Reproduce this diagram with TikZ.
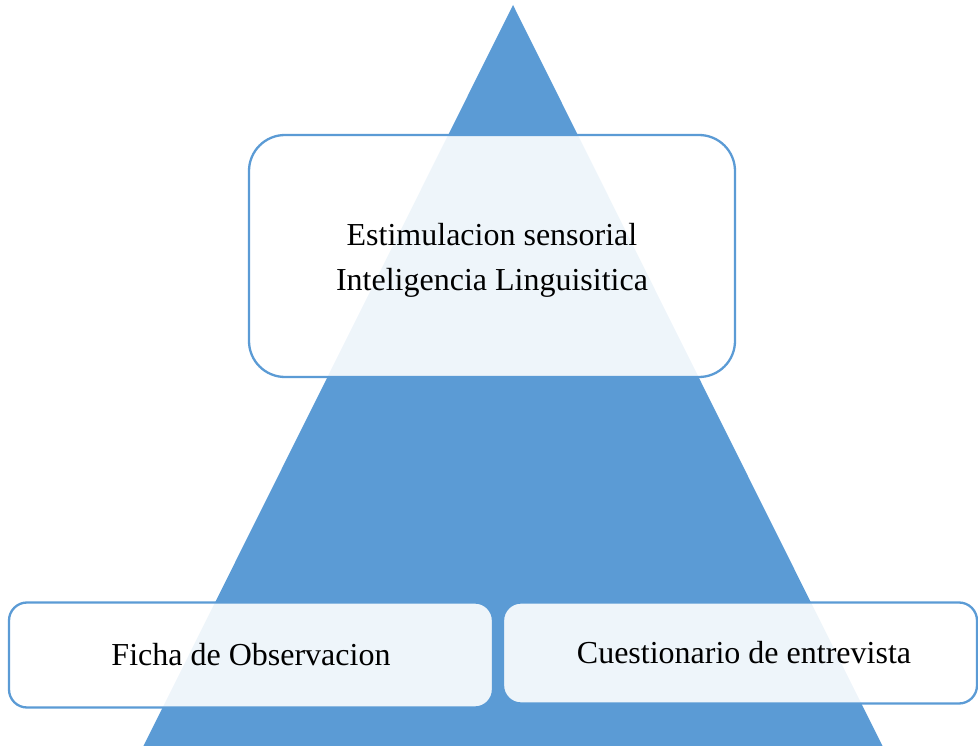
\documentclass[tikz,border=0pt]{standalone}
\usepackage{fontspec}
\setmainfont{Liberation Serif}
\definecolor{pyrblue}{HTML}{5B9BD5}
\tikzset{
  pyrbox/.style={draw=pyrblue, line width=2.3pt, fill=white, fill opacity=0.9, text opacity=1,
    inner sep=0pt, align=center, font=\fontsize{32}{45}\selectfont},
  pyrtext/.style={inner sep=0pt, align=center, font=\fontsize{32}{45}\selectfont},
}
\begin{document}
\begin{tikzpicture}[x=1pt,y=-1pt]
\useasboundingbox (0,0) rectangle (978,746);
\clip (0,0) rectangle (978,746);
\fill[pyrblue] (513,5) -- (885,751) -- (141,751) -- cycle;
\node[pyrbox, rounded corners=36pt, minimum width=486pt, minimum height=242pt] (top) at (492,256) {};
\node[pyrtext] (toptext) at ([yshift=-4pt]top.center) {Estimulacion sensorial\\Inteligencia Linguisitica};
\node[pyrbox, rounded corners=18pt, minimum width=484pt, minimum height=105pt] (left) at (251,655)
  {Ficha de Observacion};
\node[pyrbox, rounded corners=18pt, minimum width=474pt, minimum height=101pt] (right) at (740,653)
  {\hspace*{8pt}Cuestionario de entrevista};
\end{tikzpicture}
\end{document}
